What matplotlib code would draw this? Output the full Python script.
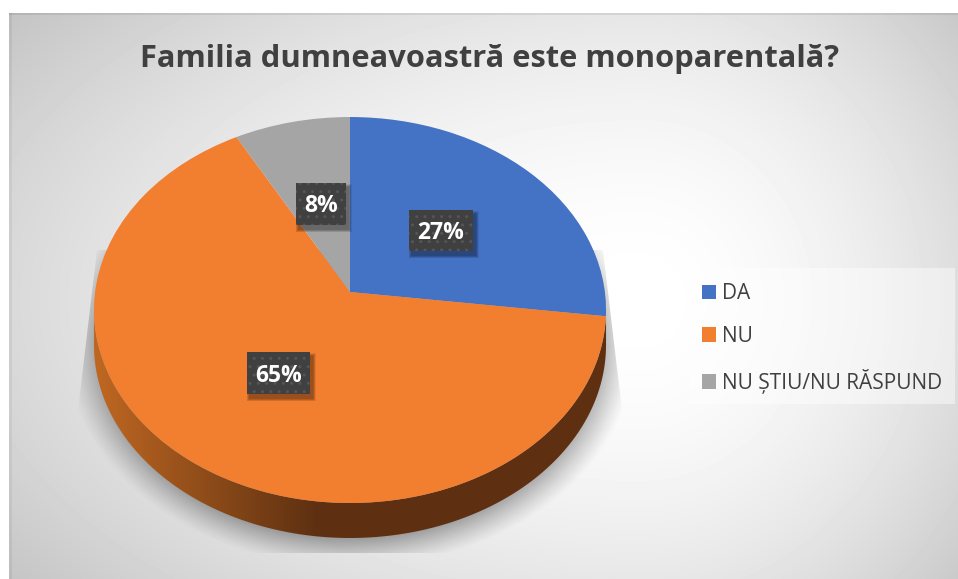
import numpy as np
import matplotlib
matplotlib.use("Agg")
import matplotlib.pyplot as plt
from matplotlib.patches import Patch, Polygon, Rectangle
from matplotlib.transforms import Transform

categorii = ["DA", "NU", "NU ȘTIU/NU RĂSPUND"]
valori = [27, 65, 8]
culori = ["#4472C4", "#F27E30", "#A5A5A5"]
titlu = "Familia dumneavoastră este monoparentală?"

W, H = 958, 579
CX, CY = 350, 292  # varful pie-ului, in pixeli
A, B, P = 254.9, 191.3, 0.0933  # perspectiva
ADANCIME = 35

plt.rcParams["font.family"] = ["Open Sans", "DejaVu Sans"]


class Perspectiva(Transform):
    input_dims = 2
    output_dims = 2

    def transform_non_affine(self, values):
        values = np.asarray(values, dtype=float)
        t = -values[:, 1]
        w = 1 - P * t
        return np.column_stack([CX + A * values[:, 0] / w, CY + B * t / w])


fig = plt.figure(figsize=(W / 100, H / 100), dpi=100)
ax = fig.add_axes([0, 0, 1, 1])

# fundal cu gradient
yy, xx = np.mgrid[0:H, 0:W]
u = np.where(xx < 640, (640 - xx) / 700, (xx - 640) / 380)
v = (yy - 300) / 400
fundal = np.clip(1 - 0.18 * np.hypot(u, v) ** 1.8, 0, 1)
img = ax.imshow(fundal, cmap="gray", vmin=0, vmax=1, extent=(0, W, H, 0), zorder=0, interpolation="bilinear")
img.set_clip_path(Rectangle((9, 13), W - 9, H - 13, transform=ax.transData))
ax.add_patch(Rectangle((9, 13), 3, H - 13, color="black", alpha=0.05, lw=0, zorder=0.5))
ax.add_patch(Rectangle((9, 13), W - 9, 1.5, color="black", alpha=0.08, lw=0, zorder=0.5))

# conturul pie-ului
theta = np.linspace(0, 2 * np.pi, 721)
per = Perspectiva()
contur = per.transform(np.column_stack([np.sin(theta), np.cos(theta)]))
stanga, dreapta = contur[:, 0].argmin(), contur[:, 0].argmax()
jos = contur[dreapta:stanga + 1]

# umbra de sub pie
umbra_r = np.hypot((xx - CX) / 286, (yy - 345) / 222)
umbra_a = np.clip((1.0 - umbra_r) / 0.13, 0, 1) ** 1.2 * 0.32
umbra = np.dstack([np.zeros((H, W)), np.zeros((H, W)), np.zeros((H, W)), umbra_a])
im_umbra = ax.imshow(umbra, extent=(0, W, H, 0), zorder=1, interpolation="bilinear")
im_umbra.set_clip_path(Polygon([(97, 250), (78, 410), (78, 553), (622, 553), (622, 410), (603, 250)],
                               transform=ax.transData))

# marginea 3D, doar felia NU se vede
margine = np.vstack([jos, (jos + [0, ADANCIME])[::-1]])
grad = np.clip((xx - 100) / 215, 0, 1)
c1, c2 = np.array([0.74, 0.40, 0.13]), np.array([0.37, 0.19, 0.07])
rim = c1 + (c2 - c1) * grad[..., None]
im_rim = ax.imshow(rim, extent=(0, W, H, 0), zorder=2, interpolation="bilinear")
im_rim.set_clip_path(Polygon(margine, transform=ax.transData))

# feliile
felii, _ = ax.pie(valori, colors=culori, startangle=90, counterclock=False, radius=1)
for f in felii:
    f.set_transform(per + ax.transData)
    f.set_zorder(3)
    f.set_edgecolor("none")

ax.set_aspect("auto")
ax.set_xlim(0, W)
ax.set_ylim(H, 0)
ax.axis("off")

# etichete
pozitii = [(409, 210, 64, 41), (247, 352, 63, 42), (296, 183, 50, 42)]
for val, (x0, y0, w, h) in zip(valori, pozitii):
    for k in range(6, 0, -1):
        ax.add_patch(Rectangle((x0 + 3 - k / 2, y0 + 4 - k / 2), w + k, h + k, color="black",
                               alpha=0.07, lw=0, zorder=4))
    ax.add_patch(Rectangle((x0, y0), w, h, facecolor="#404040", edgecolor="#555555", hatch="..",
                           lw=0, zorder=5))
    ax.text(x0 + w / 2, y0 + h / 2 + 2.5, f"{val}%", color="white", fontsize=16.5, fontweight="bold",
            ha="center", va="center", zorder=6)

ax.text(489.5, 59, titlu, color="#404040", fontsize=22.25, fontweight="bold", ha="center", va="center", zorder=6)

# legenda
ax.add_patch(Rectangle((690, 268), 265, 136, facecolor="white", alpha=0.45, lw=0, zorder=3))
manere = [Patch(color=c, lw=0) for c in culori]
leg = ax.legend(manere, categorii, loc="upper left", bbox_to_anchor=(702 / W, 1 - 283 / H),
                frameon=False, fontsize=15, labelcolor="#404040", handlelength=0.67, handleheight=0.67,
                handletextpad=0.3, labelspacing=1.05, borderpad=0, borderaxespad=0)
leg.set_zorder(6)

fig.savefig("out.png", dpi=100)
